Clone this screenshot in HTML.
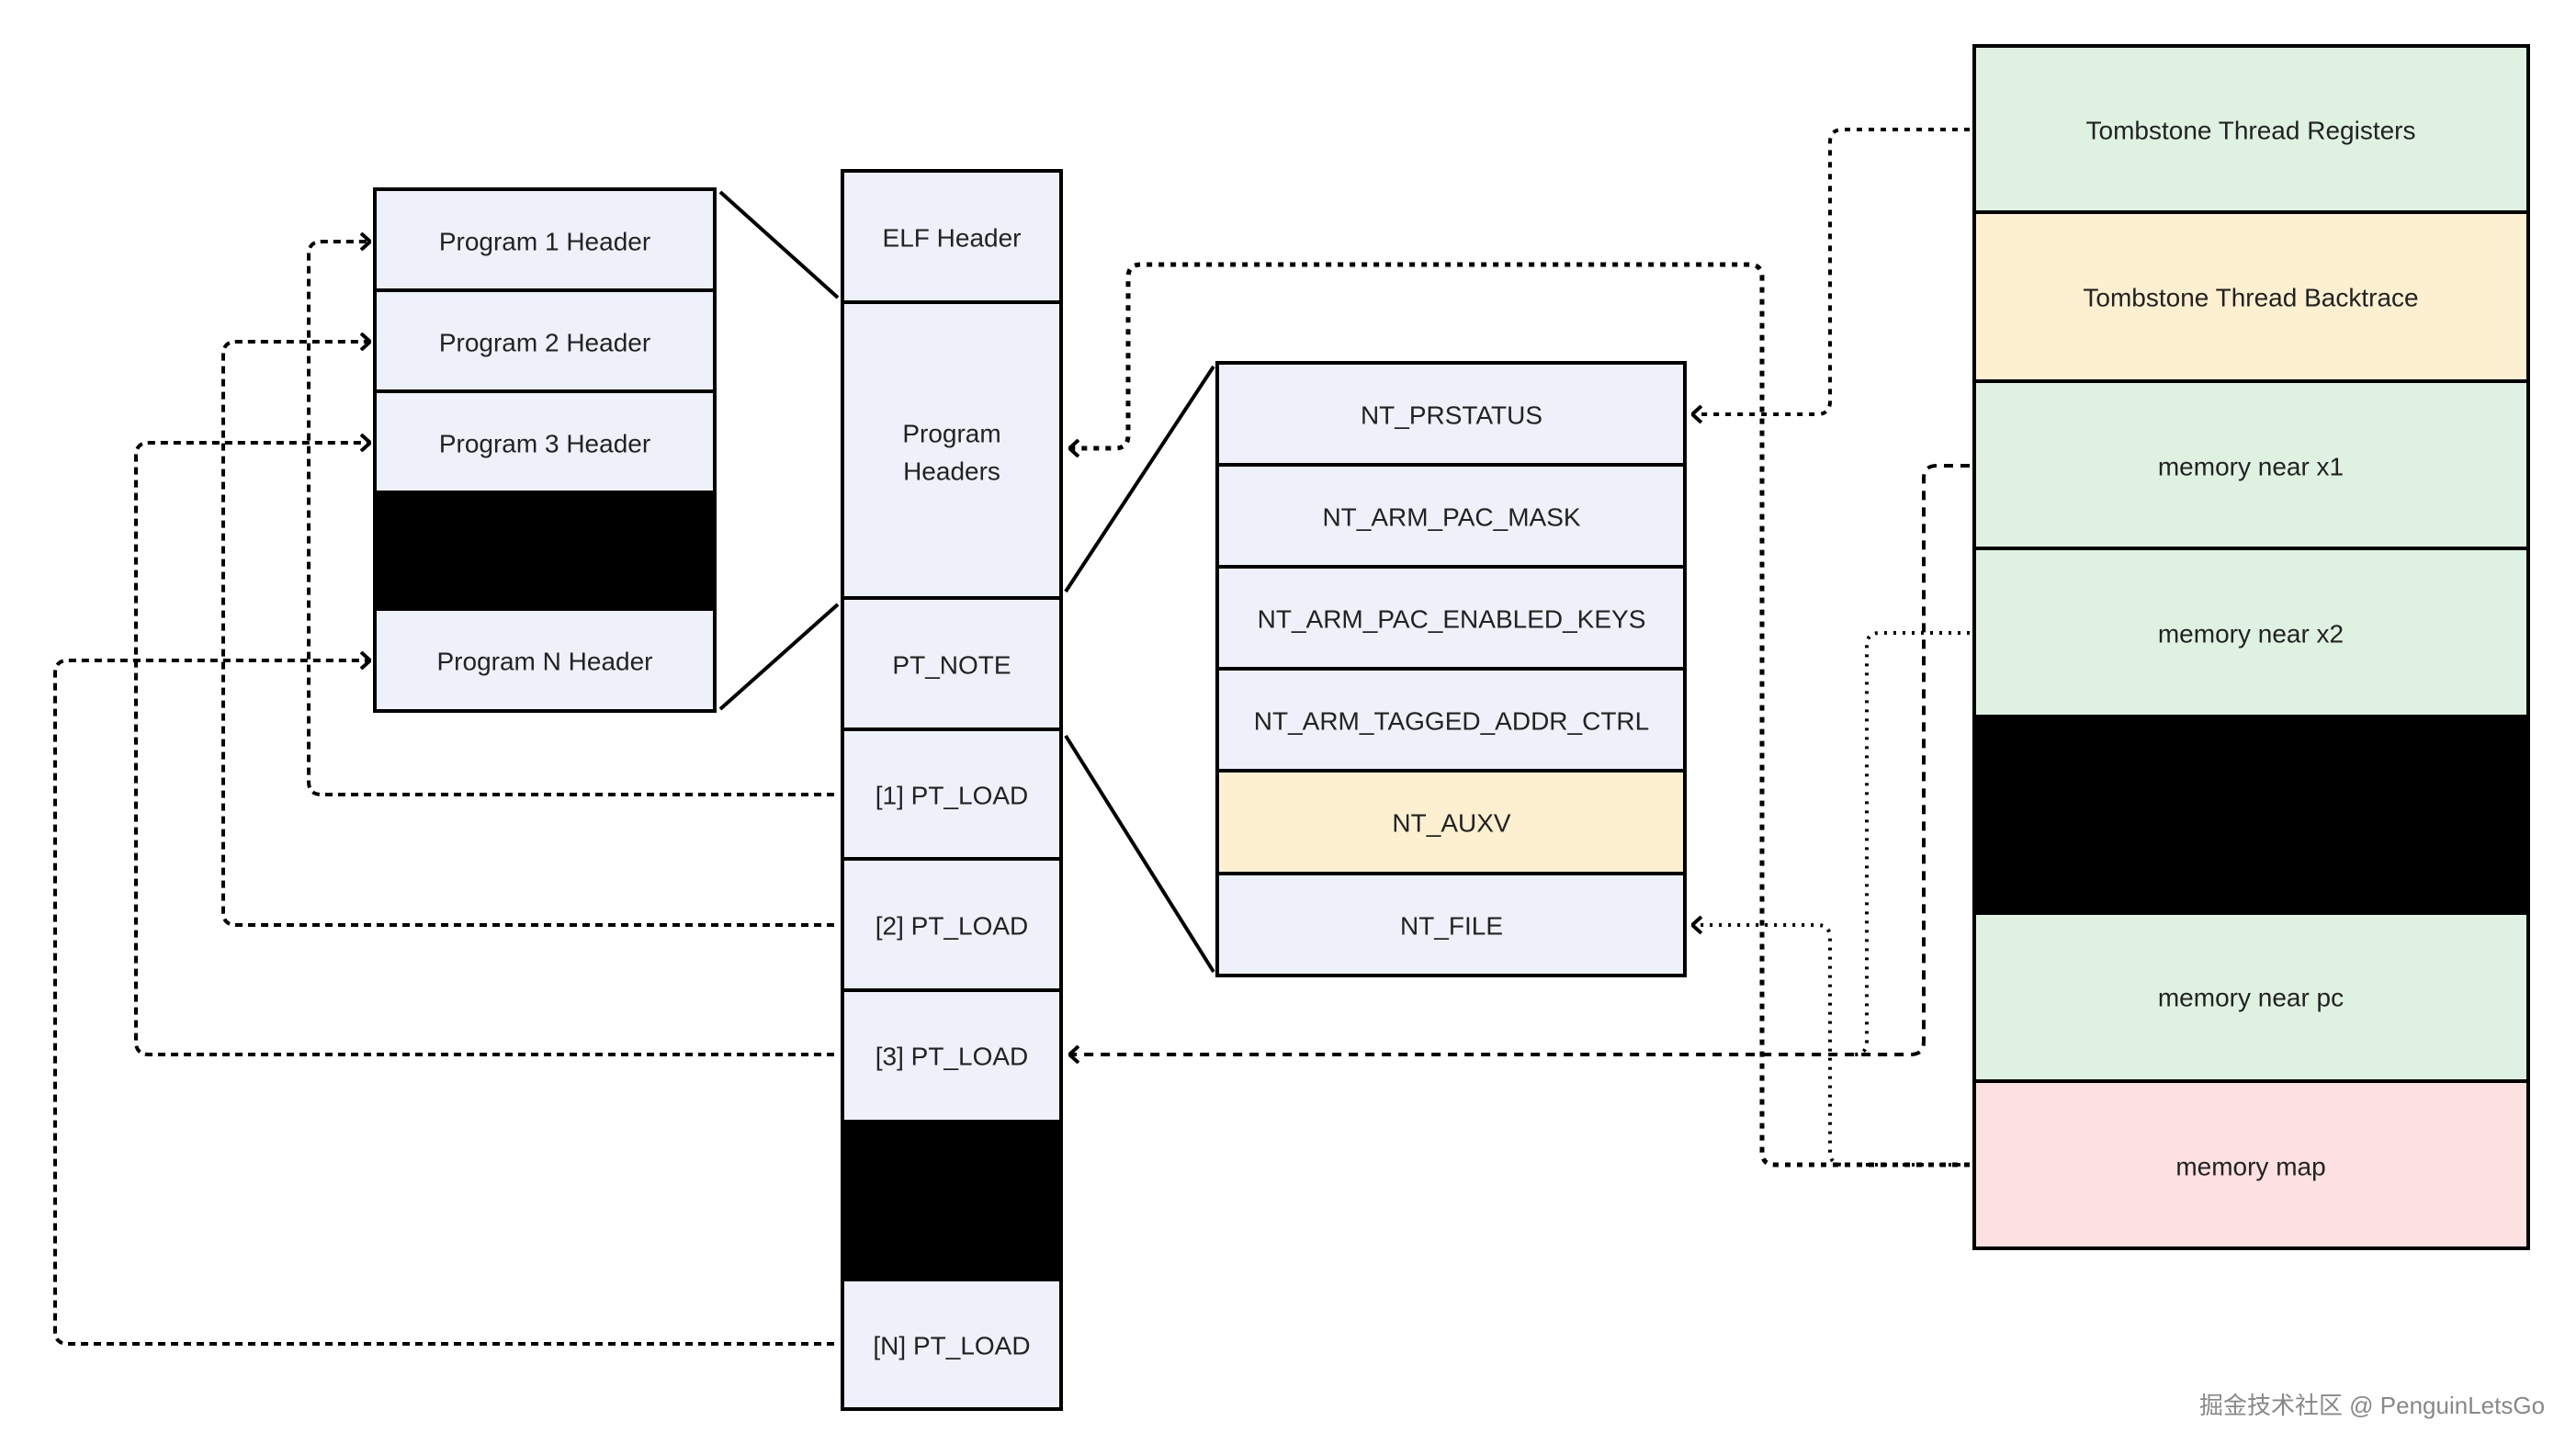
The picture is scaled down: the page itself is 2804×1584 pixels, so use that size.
<!DOCTYPE html>
<html><head><meta charset="utf-8"><style>
html,body{margin:0;padding:0;background:#fff}
svg{display:block}
text{font-family:"Liberation Sans","Noto Sans CJK SC",sans-serif;font-size:28px;fill:#222;text-anchor:middle;dominant-baseline:central}
</style></head><body>
<svg width="2804" height="1584" viewBox="0 0 2804 1584" xmlns="http://www.w3.org/2000/svg">
<defs>
<marker id="ar" markerWidth="12" markerHeight="20" refX="11" refY="10" orient="auto" markerUnits="userSpaceOnUse">
<path d="M1,1 L11,10 L1,19" fill="none" stroke="#000" stroke-width="4"/>
</marker>
</defs>
<g stroke="#000" stroke-width="4">
<!-- left box -->
<rect x="408" y="206" width="370" height="110" fill="#eef1fa"/>
<rect x="408" y="316" width="370" height="110" fill="#eef1fa"/>
<rect x="408" y="426" width="370" height="110" fill="#eef1fa"/>
<rect x="408" y="536" width="370" height="127" fill="#000"/>
<rect x="408" y="663" width="370" height="111" fill="#eef1fa"/>
<!-- center column -->
<rect x="917" y="186" width="238" height="143" fill="#eef1fa"/>
<rect x="917" y="329" width="238" height="322" fill="#eef1fa"/>
<rect x="917" y="651" width="238" height="143" fill="#eef1fa"/>
<rect x="917" y="794" width="238" height="141" fill="#eef1fa"/>
<rect x="917" y="935" width="238" height="143" fill="#eef1fa"/>
<rect x="917" y="1078" width="238" height="143" fill="#eef1fa"/>
<rect x="917" y="1221" width="238" height="172" fill="#000"/>
<rect x="917" y="1393" width="238" height="141" fill="#eef1fa"/>
<!-- middle box -->
<rect x="1325" y="395" width="509" height="111" fill="#eef1fa"/>
<rect x="1325" y="506" width="509" height="111" fill="#eef1fa"/>
<rect x="1325" y="617" width="509" height="111" fill="#eef1fa"/>
<rect x="1325" y="728" width="509" height="111" fill="#eef1fa"/>
<rect x="1325" y="839" width="509" height="112" fill="#fdf0d0"/>
<rect x="1325" y="951" width="509" height="111" fill="#eef1fa"/>
<!-- right box -->
<rect x="2149" y="50" width="603" height="181" fill="#dff2e1"/>
<rect x="2149" y="231" width="603" height="184" fill="#fdf0d0"/>
<rect x="2149" y="415" width="603" height="182" fill="#dff2e1"/>
<rect x="2149" y="597" width="603" height="183" fill="#dff2e1"/>
<rect x="2149" y="780" width="603" height="214" fill="#000"/>
<rect x="2149" y="994" width="603" height="183" fill="#dff2e1"/>
<rect x="2149" y="1177" width="603" height="182" fill="#fde0e0"/>
<!-- solid lines -->
<line x1="784" y1="209" x2="912" y2="324"/>
<line x1="784" y1="772" x2="912" y2="658"/>
<line x1="1160" y1="644" x2="1321" y2="399"/>
<line x1="1160" y1="801" x2="1321" y2="1058"/>
</g>
<g fill="none" stroke="#000" stroke-width="4">
<!-- left connectors -->
<path d="M908,865 H350 Q336,865 336,851 V277 Q336,263 350,263 H403" stroke-dasharray="8 6" marker-end="url(#ar)"/>
<path d="M908,1007 H257 Q243,1007 243,993 V386 Q243,372 257,372 H403" stroke-dasharray="8 6" marker-end="url(#ar)"/>
<path d="M908,1148 H162 Q148,1148 148,1134 V496 Q148,482 162,482 H403" stroke-dasharray="8 6" marker-end="url(#ar)"/>
<path d="M908,1463 H74 Q60,1463 60,1449 V733 Q60,719 74,719 H403" stroke-dasharray="8 6" marker-end="url(#ar)"/>
<!-- right connectors -->
<path d="M2144,141 H2006 Q1992,141 1992,155 V437 Q1992,451 1978,451 H1842" stroke-dasharray="6 7" marker-end="url(#ar)"/>
<path d="M2144,1268 H1932 Q1918,1268 1918,1254 V302 Q1918,288 1904,288 H1242 Q1228,288 1228,302 V474 Q1228,488 1214,488 H1164" stroke-dasharray="6 7" stroke-width="5" marker-end="url(#ar)"/>
<path d="M2144,507 H2108 Q2094,507 2094,521 V1134 Q2094,1148 2080,1148 H1164" stroke-dasharray="10 8" marker-end="url(#ar)"/>
<path d="M2144,689 H2046 Q2032,689 2032,703 V1134 Q2032,1148 2018,1148" stroke-dasharray="3 7"/>
<path d="M2144,1268 H2006 Q1992,1268 1992,1254 V1021 Q1992,1007 1978,1007 H1842" stroke-dasharray="3 7" marker-end="url(#ar)"/>
</g>
<text x="593" y="263">Program 1 Header</text>
<text x="593" y="373">Program 2 Header</text>
<text x="593" y="483">Program 3 Header</text>
<text x="593" y="720">Program N Header</text>
<text x="1036" y="259">ELF Header</text>
<text x="1036" y="472">Program</text>
<text x="1036" y="513">Headers</text>
<text x="1036" y="724">PT_NOTE</text>
<text x="1036" y="866">[1] PT_LOAD</text>
<text x="1036" y="1008">[2] PT_LOAD</text>
<text x="1036" y="1150">[3] PT_LOAD</text>
<text x="1036" y="1465">[N] PT_LOAD</text>
<text x="1580" y="452">NT_PRSTATUS</text>
<text x="1580" y="563">NT_ARM_PAC_MASK</text>
<text x="1580" y="674">NT_ARM_PAC_ENABLED_KEYS</text>
<text x="1580" y="785">NT_ARM_TAGGED_ADDR_CTRL</text>
<text x="1580" y="896">NT_AUXV</text>
<text x="1580" y="1008">NT_FILE</text>
<text x="2450" y="142">Tombstone Thread Registers</text>
<text x="2450" y="324">Tombstone Thread Backtrace</text>
<text x="2450" y="508">memory near x1</text>
<text x="2450" y="690">memory near x2</text>
<text x="2450" y="1086">memory near pc</text>
<text x="2450" y="1270">memory map</text>
<text x="2582" y="1530" style="font-size:26px;fill:#888">掘金技术社区 @ PenguinLetsGo</text>
</svg>
</body></html>
